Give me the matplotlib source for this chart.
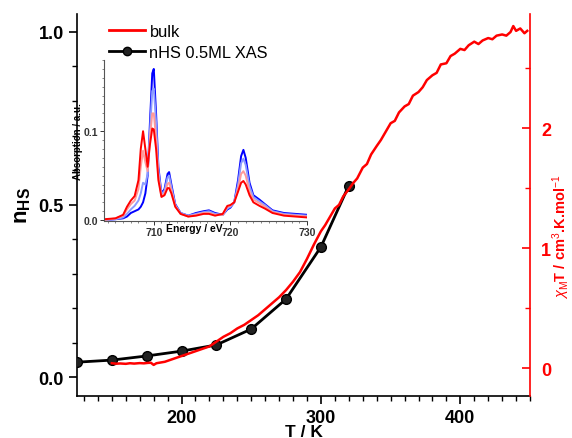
import matplotlib
matplotlib.use("Agg")
import matplotlib.pyplot as plt
from matplotlib.ticker import MultipleLocator
from matplotlib.lines import Line2D

plt.rcParams['font.family'] = ['Liberation Sans', 'DejaVu Sans']
plt.rcParams['mathtext.fontset'] = 'custom'
plt.rcParams['mathtext.rm'] = 'Liberation Sans'
plt.rcParams['mathtext.bf'] = 'Liberation Sans:bold'
plt.rcParams['mathtext.it'] = 'Liberation Sans:italic'

# nHS from XAS (0.5 ML)
t_xas = [125, 150, 175, 200, 225, 250, 275, 300, 320]
nhs_xas = [0.043, 0.049, 0.061, 0.075, 0.093, 0.139, 0.226, 0.377, 0.555]

# bulk chi_M T
t_bulk = [150, 153, 156, 160, 163, 166, 170, 173, 176, 178, 180, 182, 185, 188,
          190, 195, 200, 205, 210, 215, 220, 225, 230, 235, 240, 245, 250, 255,
          260, 265, 270, 275, 280, 285, 290, 295, 300, 303, 306, 310, 313, 316,
          320, 323, 326, 330, 333, 336, 340, 343, 346, 350, 353, 356, 360, 363,
          366, 370, 373, 376, 380, 383, 386, 390, 393, 396, 400, 403, 406, 410,
          413, 416, 420, 423, 426, 430, 433, 436, 438, 440, 443, 446, 448]
chi_bulk = [0.040, 0.036, 0.038, 0.035, 0.040, 0.037, 0.041, 0.039, 0.043, 0.044,
            0.026, 0.040, 0.046, 0.052, 0.060, 0.080, 0.100, 0.120, 0.140, 0.160,
            0.180, 0.220, 0.260, 0.290, 0.330, 0.360, 0.400, 0.440, 0.490, 0.540,
            0.590, 0.650, 0.720, 0.800, 0.910, 1.030, 1.140, 1.190, 1.250, 1.330,
            1.360, 1.430, 1.490, 1.540, 1.580, 1.670, 1.700, 1.780, 1.850, 1.900,
            1.960, 2.040, 2.060, 2.130, 2.180, 2.200, 2.270, 2.300, 2.340, 2.400,
            2.440, 2.460, 2.530, 2.540, 2.600, 2.620, 2.660, 2.650, 2.690, 2.720,
            2.700, 2.730, 2.750, 2.740, 2.770, 2.780, 2.770, 2.800, 2.850, 2.810,
            2.830, 2.790, 2.810]

# XAS spectra for the inset, low T (blue) to high T (red)
energy = [703.5, 705, 706, 706.5, 707, 707.5, 708, 708.3, 708.6, 708.9, 709.2,
          709.5, 709.8, 710.0, 710.3, 710.6, 711.0, 711.4, 711.8, 712.0, 712.3,
          712.8, 713.5, 714.5, 715.5, 716.5, 717.2, 718, 719, 719.6, 720, 720.5,
          721, 721.4, 721.7, 722.0, 722.5, 723, 723.8, 724.5, 725.5, 727, 730]
abs_blue = [0.0, 0.001, 0.002, 0.004, 0.008, 0.010, 0.012, 0.015, 0.020, 0.030,
            0.050, 0.110, 0.165, 0.170, 0.120, 0.060, 0.030, 0.035, 0.052, 0.054,
            0.040, 0.018, 0.008, 0.005, 0.008, 0.010, 0.011, 0.008, 0.006, 0.012,
            0.014, 0.020, 0.045, 0.072, 0.079, 0.070, 0.042, 0.028, 0.023, 0.018,
            0.011, 0.008, 0.006]
abs_lblue = [0.0, 0.001, 0.003, 0.007, 0.012, 0.016, 0.022, 0.030, 0.042, 0.040,
             0.052, 0.100, 0.145, 0.148, 0.110, 0.056, 0.029, 0.033, 0.048, 0.050,
             0.037, 0.017, 0.008, 0.005, 0.007, 0.009, 0.010, 0.007, 0.006, 0.013,
             0.015, 0.020, 0.040, 0.064, 0.069, 0.062, 0.038, 0.026, 0.021, 0.017,
             0.010, 0.007, 0.005]
abs_pink = [0.0, 0.002, 0.005, 0.012, 0.018, 0.022, 0.035, 0.060, 0.078, 0.065,
            0.055, 0.092, 0.120, 0.120, 0.092, 0.050, 0.027, 0.030, 0.041, 0.042,
            0.033, 0.016, 0.007, 0.004, 0.006, 0.008, 0.008, 0.006, 0.006, 0.015,
            0.016, 0.020, 0.035, 0.052, 0.055, 0.050, 0.032, 0.023, 0.019, 0.015,
            0.009, 0.006, 0.004]
abs_red = [0.001, 0.002, 0.006, 0.015, 0.022, 0.027, 0.045, 0.080, 0.100, 0.080,
           0.060, 0.085, 0.103, 0.102, 0.080, 0.045, 0.026, 0.028, 0.036, 0.036,
           0.030, 0.015, 0.007, 0.004, 0.005, 0.007, 0.007, 0.005, 0.007, 0.016,
           0.017, 0.020, 0.032, 0.042, 0.044, 0.040, 0.028, 0.020, 0.016, 0.013,
           0.008, 0.005, 0.003]
spectra = [abs_blue, abs_lblue, abs_pink, abs_red]
spec_colors = ['#0000ff', '#8c9cff', '#ff9a9a', '#ff0000']

fig = plt.figure(figsize=(5.72, 4.39), dpi=100)
ax = fig.add_axes([0.1346, 0.0957, 0.792, 0.870])
ax2 = ax.twinx()

ax.plot(t_xas, nhs_xas, color='black', lw=2, marker='o', ms=7,
        markerfacecolor='#222222', markeredgecolor='black', zorder=3)
ax2.plot(t_bulk, chi_bulk, color='red', lw=1.8)

ax.set_xlim(125, 450)
ax.set_ylim(-0.055, 1.052)
ax2.set_ylim(-0.233, 2.95)

ax.xaxis.set_major_locator(MultipleLocator(100))
ax.xaxis.set_minor_locator(MultipleLocator(10))
ax.yaxis.set_major_locator(MultipleLocator(0.5))
ax.yaxis.set_minor_locator(MultipleLocator(0.1))
ax2.yaxis.set_major_locator(MultipleLocator(1))
ax2.yaxis.set_minor_locator(MultipleLocator(0.5))

ax.spines['top'].set_visible(False)
ax2.spines['top'].set_visible(False)
ax.spines['right'].set_visible(False)
ax2.spines['left'].set_visible(False)
ax2.spines['bottom'].set_visible(False)
ax2.spines['right'].set_color('red')
for s in ['left', 'bottom']:
    ax.spines[s].set_linewidth(1.2)
ax2.spines['right'].set_linewidth(1.2)

ax.tick_params(axis='both', which='major', direction='out', length=6, width=1.2,
               labelsize=13)
ax.tick_params(axis='both', which='minor', direction='out', length=3.5, width=1)
ax2.tick_params(axis='y', which='major', direction='in', length=6, width=1.2,
                colors='red', labelsize=13, pad=8)
ax2.tick_params(axis='y', which='minor', direction='in', length=3.5, width=1,
                colors='red')
for lab in ax.get_xticklabels() + ax.get_yticklabels() + ax2.get_yticklabels():
    lab.set_fontweight('bold')
ax.set_yticks([0.0, 0.5, 1.0])
ax.set_yticklabels(['0.0', '0.5', '1.0'], fontweight='bold')

ax.set_xlabel('T / K', fontsize=12.5, fontweight='bold', labelpad=-1.5)
ax.set_ylabel(r'$\mathbf{n}_{\mathbf{HS}}$', fontsize=16, labelpad=4)
ax2.set_ylabel(r'$\chi_{\mathrm{M}}$T / cm$^{3}$.K.mol$^{-1}$', color='red',
               fontsize=10.5, fontweight='bold')
ax2.yaxis.set_label_coords(1.045, 0.42)

handles = [Line2D([], [], color='red', lw=2),
           Line2D([], [], color='black', lw=2, marker='o', ms=6,
                  markerfacecolor='#222222')]
ax.legend(handles, ['bulk', 'nHS 0.5ML XAS'], loc='upper left',
          bbox_to_anchor=(0.037, 1.012), frameon=False, fontsize=11.8,
          handlelength=2.2, handletextpad=0.3, labelspacing=0.35)

# inset with XAS spectra
ins = fig.add_axes([0.1818, 0.4943, 0.3549, 0.3667])
ins.patch.set_alpha(0)
for y, c in zip(spectra, spec_colors):
    ins.plot(energy, y, color=c, lw=1.4)
ins.set_xlim(703.5, 730)
ins.set_ylim(-0.001, 0.18)
ins.spines['top'].set_visible(False)
ins.spines['right'].set_visible(False)
for s in ['left', 'bottom']:
    ins.spines[s].set_color('#555555')
    ins.spines[s].set_linewidth(0.8)
ins.xaxis.set_major_locator(MultipleLocator(10))
ins.xaxis.set_minor_locator(MultipleLocator(1))
ins.yaxis.set_major_locator(MultipleLocator(0.1))
ins.yaxis.set_minor_locator(MultipleLocator(0.01))
ins.tick_params(which='major', direction='out', length=3, width=0.7,
                labelsize=7.5, pad=1, colors='#333333')
ins.tick_params(which='minor', direction='out', length=1.5, width=0.5,
                colors='#555555')
ins.set_xticks([710, 720, 730])
ins.set_xticklabels(['710', '720', '730'], fontweight='bold')
ins.set_yticks([0.0, 0.1])
ins.set_yticklabels(['0.0', '0.1'], fontweight='bold')
ins.set_ylabel('Absorption / a.u.', fontsize=7, fontweight='bold', labelpad=1)
ins.text(711.6, -0.0035, 'Energy / eV', fontsize=7.5, fontweight='bold',
         ha='left', va='top')

fig.savefig('out.png', dpi=100)
